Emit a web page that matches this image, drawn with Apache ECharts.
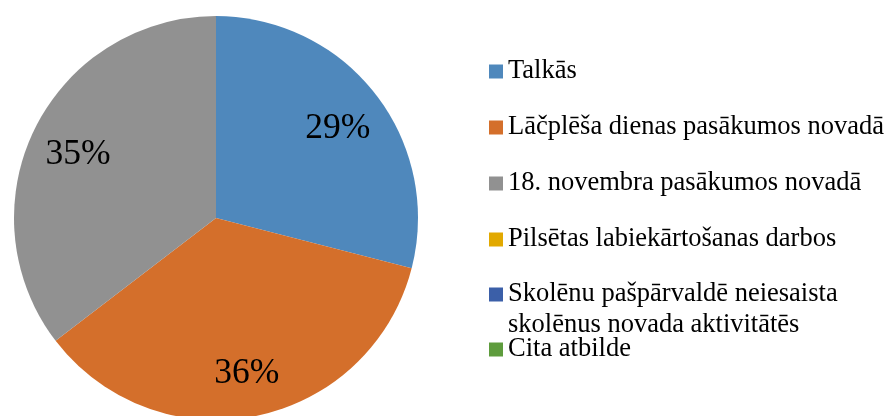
<!doctype html>
<html>
<head>
<meta charset="utf-8"/>
<title>pie</title>
<script src="https://cdn.jsdelivr.net/npm/echarts@6/dist/echarts.min.js"></script>
<style>
*{margin:0;padding:0;}
body{background:#fff;}
#main{width:889px;height:416px;}
</style>
</head>
<body>
<div id="main"></div>
<script type="text/javascript">
// answer categories and their shares (percent)
var categories = [
  'Talkās',
  'Lāčplēša dienas pasākumos novadā',
  '18. novembra pasākumos novadā',
  'Pilsētas labiekārtošanas darbos',
  'Skolēnu pašpārvaldē neiesaista skolēnus novada aktivitātēs',
  'Cita atbilde'
];
var values = [29.0, 35.6, 35.4, 0, 0, 0];
var colors = ['#4f88bc', '#d46f2b', '#919191', '#e2a900', '#3b5fa8', '#5e9c3d'];

var FONT = '"Liberation Serif", "Times New Roman", serif';

var chart = echarts.init(document.getElementById('main'));

var pieData = categories.map(function (name, i) {
  return { name: name, value: values[i], itemStyle: { color: colors[i] } };
});

// legend item tops
var legendTops = [56, 112, 168, 224, 248, 334];

var legends = categories.map(function (name, i) {
  var multi = (i === 4);
  return {
    orient: 'vertical',
    left: 489,
    top: legendTops[i],
    padding: 0,
    itemWidth: 14,
    itemHeight: 14,
    icon: 'rect',
    selectedMode: false,
    data: [name],
    formatter: function (n) {
      // blank first line keeps the marker on the first text line
      if (multi) return '\nSkolēnu pašpārvaldē neiesaista\nskolēnus novada aktivitātēs';
      return n;
    },
    textStyle: { fontFamily: FONT, fontSize: 26.5, lineHeight: 31, color: '#000' }
  };
});

var option = {
  animation: false,
  legend: legends,
  series: [
    {
      type: 'pie',
      center: [216, 218],
      radius: 202,
      startAngle: 90,
      clockwise: true,
      silent: true,
      label: { show: false },
      labelLine: { show: false },
      data: pieData
    },
    {
      // transparent copy, only for placing the percent labels further out
      type: 'pie',
      center: [216, 218],
      radius: [100, 202],
      startAngle: 90,
      clockwise: true,
      silent: true,
      percentPrecision: 0,
      itemStyle: { color: 'rgba(0,0,0,0)' },
      label: {
        show: true,
        position: 'inside',
        fontFamily: FONT,
        fontSize: 35.5,
        color: '#000',
        offset: [0, 5],
        formatter: function (p) {
          return p.value > 0 ? p.percent + '%' : '';
        }
      },
      labelLine: { show: false },
      data: categories.map(function (name, i) {
        return { name: name, value: values[i] };
      })
    }
  ]
};

chart.setOption(option);
</script>
</body>
</html>
